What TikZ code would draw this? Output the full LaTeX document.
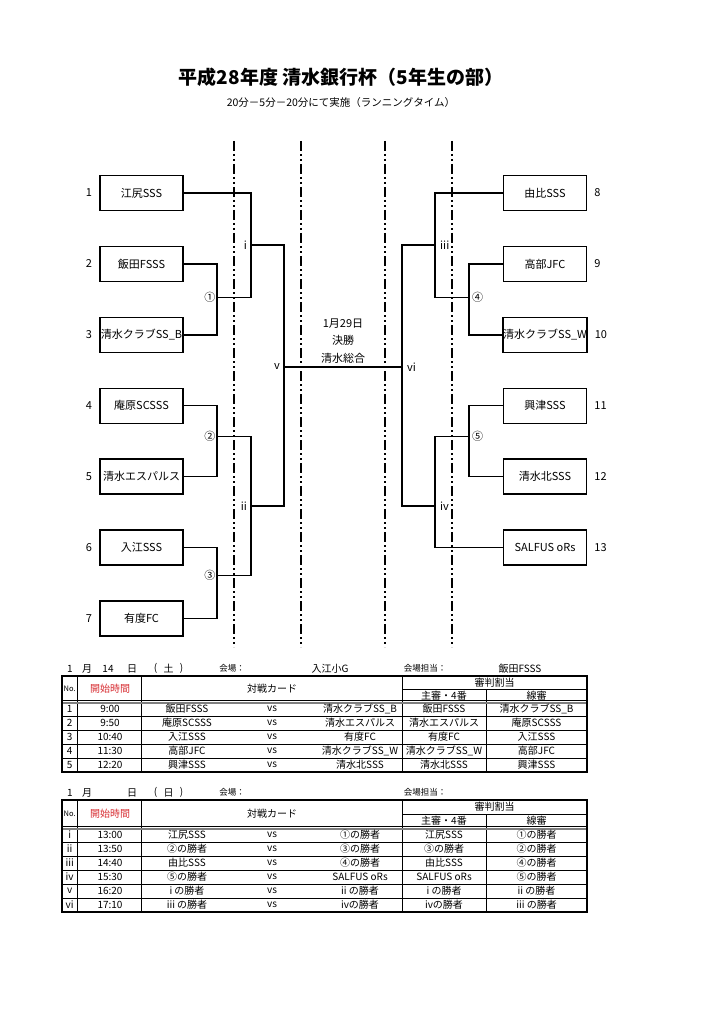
\documentclass[tikz,border=0pt]{standalone}
\usepackage{fontspec}
\setmainfont{Noto Sans CJK JP}
\usetikzlibrary{positioning}
\definecolor{TimeRed}{RGB}{215,45,50}

\begin{document}
\begin{tikzpicture}[x=1pt,y=-1pt, every node/.style={font=\fontsize{11}{13}\selectfont,inner sep=0pt}, team/.style={draw,line width=1.4pt,minimum width=83pt,minimum height=35pt}, wire/.style={line width=1.4pt}, dashline/.style={line width=2.6pt,dash pattern=on 10pt off 3pt on 2pt off 3pt on 2pt off 3pt}, cell/.style={font=\fontsize{10}{12}\selectfont}, small/.style={font=\fontsize{8.5}{10}\selectfont}, grid/.style={line width=0.8pt}, frame/.style={line width=2pt}]
\useasboundingbox (0,0) rectangle (724,1024);
\node[font=\bfseries\fontsize{19}{22}\selectfont] (title) at (341,77) {平成28年度 清水銀行杯（5年生の部）};
\node[font=\fontsize{10.5}{12}\selectfont] (sub) at (341,103) {20分－5分－20分にて実施（ランニングタイム）};
% dash-dot-dot guides
\foreach \x in {234,301,385,452} \draw[dashline] (\x,141) -- (\x,647);
% left side
\node[team,label={[label distance=7pt]left:1}] (t1) at (141.5,193) {江尻SSS};
\node[team,below=34.5pt of t1,label={[label distance=7pt]left:2}] (t2) {飯田FSSS};
\node[team,below=34.5pt of t2,label={[label distance=7pt]left:3}] (t3) {清水クラブSS\_B};
\node[team,below=34.5pt of t3,label={[label distance=7pt]left:4}] (t4) {庵原SCSSS};
\node[team,below=34.5pt of t4,label={[label distance=7pt]left:5}] (t5) {清水エスパルス};
\node[team,below=34.5pt of t5,label={[label distance=7pt]left:6}] (t6) {入江SSS};
\node[team,below=34.5pt of t6,label={[label distance=7pt]left:7}] (t7) {有度FC};
% right side
\node[team,label={[label distance=7pt]right:8}] (t8) at (545,193) {由比SSS};
\node[team,below=34.5pt of t8,label={[label distance=7pt]right:9}] (t9) {高部JFC};
\node[team,below=34.5pt of t9,label={[label distance=7pt]right:10}] (t10) {清水クラブSS\_W};
\node[team,below=34.5pt of t10,label={[label distance=7pt]right:11}] (t11) {興津SSS};
\node[team,below=34.5pt of t11,label={[label distance=7pt]right:12}] (t12) {清水北SSS};
\node[team,below=34.5pt of t12,label={[label distance=7pt]right:13}] (t13) {SALFUS oRs};
% bracket joints
\coordinate (m1) at (217,297.5);
\coordinate (m2) at (217,436.5);
\coordinate (m3) at (217,575.5);
\coordinate (ri) at (251,245);
\coordinate (rii) at (251,506);
\coordinate (rv) at (284,367);
\coordinate (m4) at (469,297.5);
\coordinate (m5) at (469,436.5);
\coordinate (riii) at (435,245);
\coordinate (riv) at (435,506);
\coordinate (rvi) at (402,367);
\node[anchor=east,inner sep=1.5pt] at (m1) {①};
\node[anchor=east,inner sep=1.5pt] at (m2) {②};
\node[anchor=east,inner sep=1.5pt] at (m3) {③};
\node[anchor=west,inner sep=3pt] at (m4) {④};
\node[anchor=west,inner sep=3pt] at (m5) {⑤};
\node[anchor=east,inner sep=4pt] at (ri) {i};
\node[anchor=east,inner sep=4pt] at (rii) {ii};
\node[anchor=east,inner sep=4pt] at (rv) {v};
\node[anchor=west,inner sep=5pt] at (riii) {iii};
\node[anchor=west,inner sep=5pt] at (riv) {iv};
\node[anchor=west,inner sep=5pt] at (rvi) {vi};
\draw[wire] (t2.east) -| (m1) |- (t3.east);
\draw[wire] (t4.east) -| (m2) |- (t5.east);
\draw[wire] (t6.east) -| (m3) |- (t7.east);
\draw[wire] (t1.east) -| (ri) |- (m1);
\draw[wire] (m2) -| (rii) |- (m3);
\draw[wire] (ri) -| (rv) |- (rii);
\draw[wire] (t9.west) -| (m4) |- (t10.west);
\draw[wire] (t11.west) -| (m5) |- (t12.west);
\draw[wire] (t8.west) -| (riii) |- (m4);
\draw[wire] (m5) -| (riv) |- (t13.west);
\draw[wire] (riii) -| (rvi) |- (riv);
\draw[wire] (rv) -- (rvi);
\node[align=center,font=\fontsize{11}{17.5}\selectfont] (final) at (343,341) {1月29日\\決勝\\清水総合};
% first day
\node[cell] at (70,668.5) {1};
\node[cell] at (87,668.5) {月};
\node[cell] at (108,668.5) {14};
\node[cell] at (132,668.5) {日};
\node[cell] at (155.5,668.5) {(};
\node[cell] at (168.5,668.5) {土};
\node[cell] at (181.5,668.5) {)};
\node[small] at (232,668.5) {会場：};
\node[cell] at (330,668.5) {入江小G};
\node[small] at (425,668.5) {会場担当：};
\node[cell] at (520,668.5) {飯田FSSS};
\draw[grid] (77.7,676) -- (77.7,772) (141.7,676) -- (141.7,772) (402,676) -- (402,772) (486,689) -- (486,772) (402,689) -- (587,689);
\draw[grid] (61.5,700.6) -- (587,700.6);
\draw[line width=1.4pt,gray] (61.5,702.8) -- (587,702.8);
\foreach \y in {716,730,744,758} \draw[grid] (61.5,\y) -- (587,\y);
\draw[frame] (61.5,676) rectangle (587,772);
\node[font=\fontsize{7.5}{9}\selectfont] at (69.7,689) {No.};
\node[cell,text=TimeRed] at (110,689) {開始時間};
\node[cell] at (272,689) {対戦カード};
\node[cell] at (494.5,682.5) {審判割当};
\node[cell] at (444,695.5) {主審・4番};
\node[cell] at (536.5,695.5) {線審};
\foreach \n/\t/\a/\b/\c/\d [count=\k] in {1/9:00/飯田FSSS/清水クラブSS\_B/飯田FSSS/清水クラブSS\_B, 2/9:50/庵原SCSSS/清水エスパルス/清水エスパルス/庵原SCSSS, 3/10:40/入江SSS/有度FC/有度FC/入江SSS, 4/11:30/高部JFC/清水クラブSS\_W/清水クラブSS\_W/高部JFC, 5/12:20/興津SSS/清水北SSS/清水北SSS/興津SSS} {
  \node[cell] at (69.7,695+14*\k) {\n};
  \node[cell] at (110,695+14*\k) {\t};
  \node[cell] at (187,695+14*\k) {\a};
  \node[cell] at (272,695+14*\k) {vs};
  \node[cell] at (360,695+14*\k) {\b};
  \node[cell] at (444,695+14*\k) {\c};
  \node[cell] at (536.5,695+14*\k) {\d};
}
% second day
\node[cell] at (70,792.5) {1};
\node[cell] at (87,792.5) {月};
\node[cell] at (132,792.5) {日};
\node[cell] at (155.5,792.5) {(};
\node[cell] at (168.5,792.5) {日};
\node[cell] at (181.5,792.5) {)};
\node[small] at (232,792.5) {会場：};
\node[small] at (425,792.5) {会場担当：};
\draw[grid] (77.7,800) -- (77.7,912) (141.7,800) -- (141.7,912) (402,800) -- (402,912) (486,814) -- (486,912) (402,814) -- (587,814);
\draw[grid] (61.5,826.6) -- (587,826.6);
\draw[line width=1.4pt,gray] (61.5,828.8) -- (587,828.8);
\foreach \y in {842,856,870,884,898} \draw[grid] (61.5,\y) -- (587,\y);
\draw[frame] (61.5,800) rectangle (587,912);
\node[font=\fontsize{7.5}{9}\selectfont] at (69.7,814) {No.};
\node[cell,text=TimeRed] at (110,814) {開始時間};
\node[cell] at (272,814) {対戦カード};
\node[cell] at (494.5,807) {審判割当};
\node[cell] at (444,821) {主審・4番};
\node[cell] at (536.5,821) {線審};
\foreach \n/\t/\a/\b/\c/\d [count=\k] in {i/13:00/江尻SSS/①の勝者/江尻SSS/①の勝者, ii/13:50/②の勝者/③の勝者/③の勝者/②の勝者, iii/14:40/由比SSS/④の勝者/由比SSS/④の勝者, iv/15:30/⑤の勝者/SALFUS oRs/SALFUS oRs/⑤の勝者, v/16:20/i の勝者/ii の勝者/i の勝者/ii の勝者, vi/17:10/iii の勝者/ivの勝者/ivの勝者/iii の勝者} {
  \node[cell] at (69.7,821+14*\k) {\n};
  \node[cell] at (110,821+14*\k) {\t};
  \node[cell] at (187,821+14*\k) {\a};
  \node[cell] at (272,821+14*\k) {vs};
  \node[cell] at (360,821+14*\k) {\b};
  \node[cell] at (444,821+14*\k) {\c};
  \node[cell] at (536.5,821+14*\k) {\d};
}
\end{tikzpicture}
\end{document}
